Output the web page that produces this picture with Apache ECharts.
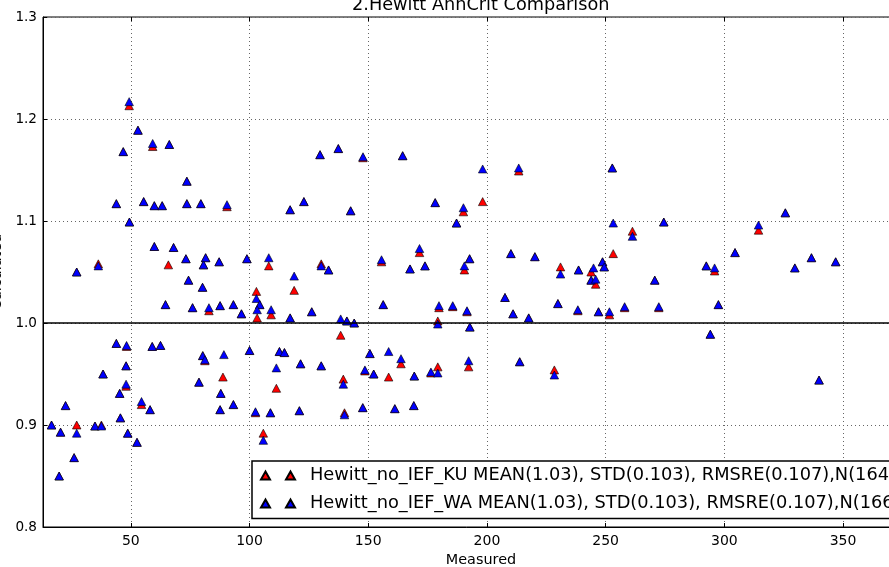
<!DOCTYPE html>
<html>
<head>
<meta charset="utf-8">
<script src="https://cdn.jsdelivr.net/npm/echarts@6/dist/echarts.min.js"></script>
<style>html,body{margin:0;padding:0;background:#fff}#c{width:889px;height:567px}</style>
</head>
<body>
<div id="c"></div>
<script>
// ---- data ----
const xTicks = [50, 100, 150, 200, 250, 300, 350];
const yTicks = [0.8, 0.9, 1.0, 1.1, 1.2, 1.3];
const kuName = 'Hewitt_no_IEF_KU MEAN(1.03), STD(0.103), RMSRE(0.107),N(164)';
const waName = 'Hewitt_no_IEF_WA MEAN(1.03), STD(0.103), RMSRE(0.107),N(166)';

const waPoints = [
 [49.3,1.217],[53,1.189],[59.2,1.176],[66.2,1.175],[46.8,1.168],[73.6,1.139],
 [129.7,1.165],[137.4,1.171],[147.8,1.163],[164.5,1.164],[198.2,1.151],[213.4,1.152],[252.8,1.152],
 [43.9,1.117],[55.4,1.119],[59.9,1.115],[63.2,1.115],[73.6,1.117],[79.5,1.117],[90.5,1.116],[117.1,1.111],[122.9,1.119],[142.6,1.110],[178.2,1.118],[190.1,1.113],[187.2,1.098],[49.4,1.099],
 [253.2,1.098],[274.5,1.099],[261.3,1.085],[325.7,1.108],[314.4,1.096],
 [59.9,1.075],[68,1.074],[171.6,1.073],[304.5,1.069],[210.1,1.068],
 [27.2,1.050],[36.3,1.056],[73.2,1.063],[81.5,1.064],[80.6,1.057],[87.2,1.060],[98.9,1.063],[108.1,1.064],[118.8,1.046],[74.3,1.042],[80.2,1.035],
 [155.6,1.062],[167.6,1.053],[173.9,1.056],[192.7,1.063],[190.5,1.056],[220.2,1.065],[231,1.048],[238.6,1.052],[130.2,1.056],[133.3,1.052],
 [248.7,1.060],[249.4,1.055],[244.9,1.054],[243.9,1.042],[245.8,1.043],[270.7,1.042],[292.4,1.056],[295.9,1.054],[329.7,1.054],[336.7,1.064],[346.9,1.060],
 [102.9,1.024],[104.3,1.018],[103.2,1.013],[109.1,1.013],[117.1,1.005],[64.6,1.018],[76,1.015],[82.9,1.015],[87.6,1.017],[93.2,1.018],[96.6,1.009],
 [126.2,1.011],[138.4,1.004],[141,1.002],[144.1,1.000],[156.3,1.018],[179.8,1.017],[185.6,1.017],[191.6,1.012],[179.3,0.999],[192.8,0.996],[207.6,1.025],[211,1.009],[217.6,1.005],[229.9,1.019],[238.3,1.013],
 [297.5,1.018],[294.1,0.989],[247,1.011],[251.6,1.011],[258,1.016],[272.4,1.016],
 [43.9,0.980],[48.2,0.978],[59,0.977],[62.5,0.978],[80.3,0.968],[81.2,0.964],[89.2,0.969],[100,0.973],[112.6,0.972],[114.7,0.971],[121.5,0.960],[48,0.958],[38.3,0.950],[111.3,0.956],[78.7,0.942],[48,0.940],
 [130.2,0.958],[139.5,0.940],[150.7,0.970],[148.6,0.954],[152.3,0.950],[158.6,0.972],[163.8,0.965],[169.4,0.948],[176.4,0.952],[179.3,0.951],[192.3,0.963],[213.8,0.962],[228.4,0.949],
 [339.9,0.944],
 [16.6,0.900],[20.4,0.893],[22.5,0.919],[27.2,0.892],[26.1,0.868],[19.8,0.850],[34.9,0.899],[37.6,0.899],[45.3,0.931],[45.6,0.907],[48.7,0.892],[52.6,0.883],[54.5,0.923],[58.1,0.915],[87.9,0.931],[87.6,0.915],[93.2,0.920],[102.5,0.913],[108.8,0.912],[105.8,0.885],[121,0.914],
 [140,0.910],[147.7,0.917],[161.2,0.916],[169.2,0.919]
];

const kuPoints = [
 [49.3,1.213],[53,1.189],[59.2,1.173],[66.2,1.175],[46.8,1.168],[73.6,1.139],
 [129.7,1.165],[137.4,1.171],[147.8,1.162],[164.5,1.164],[198.2,1.119],[213.4,1.149],[252.8,1.152],
 [43.9,1.117],[55.4,1.119],[59.9,1.115],[63.2,1.115],[73.6,1.117],[79.5,1.117],[90.5,1.114],[117.1,1.111],[122.9,1.119],[142.6,1.110],[178.2,1.118],[190.1,1.109],[187.2,1.098],[49.4,1.099],
 [253.2,1.068],[274.5,1.099],[261.3,1.090],[325.7,1.108],[314.4,1.091],
 [59.9,1.075],[68,1.074],[171.6,1.069],[304.5,1.069],[210.1,1.068],
 [27.2,1.050],[36.3,1.058],[65.8,1.057],[73.2,1.063],[81.5,1.064],[80.6,1.057],[87.2,1.060],[98.9,1.063],[108.1,1.056],[118.8,1.032],[74.3,1.042],[80.2,1.035],
 [155.6,1.060],[167.6,1.053],[173.9,1.056],[192.7,1.063],[190.5,1.052],[220.2,1.065],[231,1.055],[238.6,1.052],[130.2,1.058],[133.3,1.052],
 [248.7,1.060],[249.4,1.055],[243.9,1.050],[243.9,1.042],[245.8,1.038],[270.7,1.042],[292.4,1.056],[295.9,1.051],[329.7,1.054],[336.7,1.064],[346.9,1.060],
 [102.9,1.031],[104.3,1.018],[103.2,1.005],[109.1,1.008],[117.1,1.005],[64.6,1.018],[76,1.015],[82.9,1.012],[87.6,1.017],[93.2,1.018],[96.6,1.009],
 [126.2,1.011],[138.4,0.988],[141,1.002],[144.1,1.000],[156.3,1.018],[179.8,1.015],[185.6,1.016],[191.6,1.011],[179.3,1.002],[192.8,0.996],[207.6,1.025],[211,1.009],[217.6,1.005],[229.9,1.019],[238.3,1.012],
 [297.5,1.018],[294.1,0.989],[247,1.011],[251.6,1.008],[258,1.015],[272.4,1.015],
 [43.9,0.980],[48.2,0.977],[59,0.977],[62.5,0.978],[80.3,0.968],[81.2,0.963],[88.8,0.947],[100,0.973],[112.6,0.972],[114.7,0.971],[121.5,0.960],[48,0.958],[38.3,0.950],[111.3,0.936],[78.7,0.942],[48,0.938],
 [130.2,0.958],[139.5,0.945],[150.7,0.970],[148.6,0.953],[152.3,0.950],[158.6,0.947],[163.8,0.960],[169.4,0.948],[176.4,0.951],[179.3,0.957],[192.3,0.957],[213.8,0.962],[228.4,0.954],
 [339.9,0.944],
 [16.6,0.900],[20.4,0.893],[22.5,0.919],[27.2,0.900],[26.1,0.868],[19.8,0.850],[34.9,0.899],[37.6,0.900],[45.3,0.931],[45.6,0.907],[48.7,0.892],[52.6,0.883],[54.5,0.920],[58.1,0.915],[87.9,0.931],[87.6,0.915],[93.2,0.920],[102.5,0.912],[108.8,0.912],[105.8,0.892],[121,0.914],
 [140,0.912],[147.7,0.917],[161.2,0.916],[169.2,0.919]
];

// ---- chart ----
const chart = echarts.init(document.getElementById('c'), null, {renderer: 'canvas'});
const FONT = 'DejaVu Sans';
const gridDot = {color: '#666', width: 1, type: [1, 3]};
const legendIcon = 'path://M0,8 L4.5,0 L9,8 Z M25,8 L29.5,0 L34,8 Z';

chart.setOption({
  animation: false,
  backgroundColor: '#fff',
  textStyle: {fontFamily: FONT},
  title: {
    text: '2.Hewitt AnnCrit Comparison',
    left: 352, top: -4, padding: 0,
    textStyle: {fontFamily: FONT, fontSize: 17.7, fontWeight: 'normal', color: '#000'}
  },
  grid: {left: 43, top: 17, right: -30, bottom: 40, show: true, borderColor: '#000', borderWidth: 1,
    backgroundColor: 'transparent', containLabel: false, outerBoundsMode: 'none'},
  legend: {
    orient: 'vertical', left: 252, top: 461,
    padding: [5.5, 12, 6, 8], itemGap: 10,
    itemWidth: 34, itemHeight: 8,
    backgroundColor: '#fff', borderColor: '#000', borderWidth: 1.5, borderRadius: 0,
    textStyle: {fontFamily: FONT, fontSize: 17.8, color: '#000', padding: [0, 0, 0, 10]},
    data: [{name: kuName, icon: legendIcon}, {name: waName, icon: legendIcon}]
  },
  xAxis: [{
    type: 'value', min: 13, max: 382, position: 'bottom',
    name: 'Measured', nameLocation: 'middle', nameGap: 25,
    nameTextStyle: {fontFamily: FONT, fontSize: 14.4, color: '#000'},
    axisLine: {show: true, lineStyle: {color: '#000', width: 1}},
    axisTick: {show: true, inside: true, length: 4, customValues: xTicks, lineStyle: {color: '#000'}},
    axisLabel: {customValues: xTicks, fontFamily: FONT, fontSize: 14, color: '#000', margin: 7},
    splitLine: {show: true, lineStyle: gridDot}
  }, {
    type: 'value', min: 13, max: 382, position: 'top',
    axisLine: {show: false},
    axisTick: {show: true, inside: true, length: 4, customValues: xTicks, lineStyle: {color: '#000'}},
    axisLabel: {show: false, customValues: xTicks},
    splitLine: {show: false}
  }],
  yAxis: {
    type: 'value', min: 0.8, max: 1.3, interval: 0.1,
    name: 'Calculated', nameLocation: 'middle', nameGap: 36, nameRotate: 90,
    nameTextStyle: {fontFamily: FONT, fontSize: 14.4, color: '#000'},
    axisLine: {show: true, lineStyle: {color: '#000', width: 1}},
    axisTick: {show: true, inside: true, length: 4, lineStyle: {color: '#000'}},
    axisLabel: {fontFamily: FONT, fontSize: 13.6, color: '#000', margin: 6,
      formatter: v => v.toFixed(1)},
    splitLine: {show: true, lineStyle: gridDot}
  },
  series: [{
    name: kuName, type: 'scatter', data: kuPoints,
    symbol: 'triangle', symbolSize: [8.5, 8],
    itemStyle: {color: '#ff0000', borderColor: '#000', borderWidth: 0.6, opacity: 1},
    markLine: {
      silent: true, symbol: 'none', label: {show: false},
      lineStyle: {color: '#000', width: 1.5, type: 'solid'},
      data: [{yAxis: 1.0}]
    }
  }, {
    name: waName, type: 'scatter', data: waPoints,
    symbol: 'triangle', symbolSize: [8.5, 8],
    itemStyle: {color: '#0000ff', borderColor: '#000', borderWidth: 0.6, opacity: 1}
  }]
});
</script>
</body>
</html>
